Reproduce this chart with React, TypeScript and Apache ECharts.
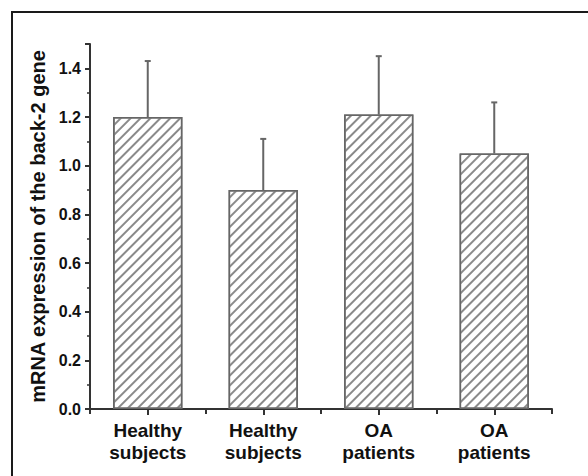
import React, { useEffect, useRef } from "react";
import * as echarts from "echarts";

const categories = ["Healthy\nsubjects", "Healthy\nsubjects", "OA\npatients", "OA\npatients"];
const means = [1.2, 0.9, 1.21, 1.05];
const upperErrors = [1.43, 1.11, 1.45, 1.26];
const yTickLabels = ["0.0", "0.2", "0.4", "0.6", "0.8", "1.0", "1.2", "1.4"];
const yTitle = "mRNA expression of the back-2 gene";

const FONT = "'Liberation Sans', Arial, sans-serif";

export default function App() {
  const ref = useRef<HTMLDivElement>(null);
  useEffect(() => {
    if (!ref.current) return;
    const chart = echarts.init(ref.current, null, { renderer: "svg" });
    const errData = means.map((m, i) => [i, m, upperErrors[i]]);
    chart.setOption({
      animation: false,
      backgroundColor: "#fff",
      grid: { left: 90, right: 36, top: 44, bottom: 67, containLabel: false },
      graphic: [
        {
          type: "rect",
          shape: { x: 12, y: 12, width: 620, height: 520 },
          style: { fill: "none", stroke: "#1a1a1a", lineWidth: 2 },
          silent: true,
          z: -1,
        },
      ],
      xAxis: [
        {
          type: "category",
          data: categories,
          position: "bottom",
          axisLine: { show: true, lineStyle: { color: "#333", width: 2 } },
          axisTick: { show: true, alignWithLabel: true, length: 6, lineStyle: { color: "#333", width: 2 } },
          axisLabel: {
            margin: 10,
            fontFamily: FONT,
            fontWeight: "bold",
            fontSize: 19,
            lineHeight: 22,
            color: "#111",
            interval: 0,
          },
          splitLine: { show: false },
        },
        {
          type: "category",
          data: categories,
          position: "bottom",
          axisLine: { show: false },
          axisTick: { show: true, alignWithLabel: false, length: 5, lineStyle: { color: "#333", width: 2 } },
          axisLabel: { show: false },
          splitLine: { show: false },
        },
      ],
      yAxis: [
        {
          type: "value",
          min: 0,
          max: 1.5,
          interval: 0.2,
          name: yTitle,
          nameLocation: "middle",
          nameRotate: 90,
          nameGap: 34,
          nameTextStyle: { fontFamily: FONT, fontWeight: "bold", fontSize: 20, color: "#111" },
          axisLine: { show: true, lineStyle: { color: "#333", width: 2 } },
          axisTick: { show: true, length: 5, lineStyle: { color: "#333", width: 2 } },
          axisLabel: {
            margin: 9,
            fontFamily: FONT,
            fontWeight: "bold",
            fontSize: 16,
            color: "#111",
            formatter: (v: number) => {
              const idx = Math.round(v / 0.2);
              if (Math.abs(v - idx * 0.2) > 1e-6) return "";
              return yTickLabels[idx] ?? "";
            },
          },
          splitLine: { show: false },
        },
        {
          type: "value",
          min: 0,
          max: 1.5,
          interval: 0.1,
          position: "left",
          axisLine: { show: false },
          axisTick: { show: true, length: 3, lineStyle: { color: "#333", width: 1.5 } },
          axisLabel: { show: false },
          splitLine: { show: false },
        },
      ],
      series: [
        {
          type: "bar",
          data: means,
          xAxisIndex: 0,
          yAxisIndex: 0,
          barWidth: "60%",
          itemStyle: {
            color: "#fff",
            borderColor: "#666",
            borderWidth: 1.5,
            decal: {
              symbol: "rect",
              symbolSize: 1,
              color: "#8a8a8a",
              dashArrayX: [1, 0],
              dashArrayY: [1.3, 5],
              rotation: -Math.PI / 4,
            },
          },
          z: 2,
        },
        {
          type: "custom",
          xAxisIndex: 0,
          yAxisIndex: 0,
          data: errData,
          z: 3,
          renderItem: (params: any, api: any) => {
            const x = api.value(0);
            const lo = api.coord([x, api.value(1)]);
            const hi = api.coord([x, api.value(2)]);
            return {
              type: "group",
              children: [
                {
                  type: "line",
                  shape: { x1: lo[0], y1: lo[1], x2: hi[0], y2: hi[1] },
                  style: { stroke: "#666", lineWidth: 2 },
                },
                {
                  type: "line",
                  shape: { x1: hi[0] - 3, y1: hi[1], x2: hi[0] + 3, y2: hi[1] },
                  style: { stroke: "#666", lineWidth: 2 },
                },
              ],
            };
          },
        },
      ],
    });
    return () => chart.dispose();
  }, []);
  return (
    <div
      ref={ref}
      style={{ position: "absolute", left: 0, top: 0, width: 588, height: 476 }}
    />
  );
}
